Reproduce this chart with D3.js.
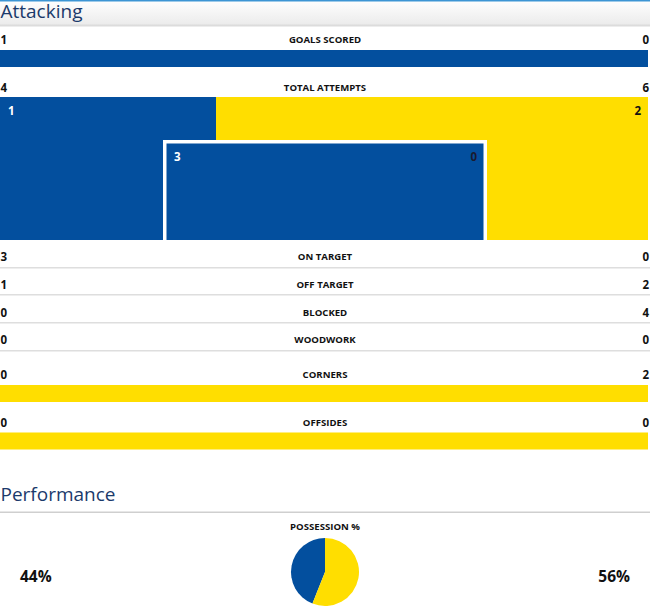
<!DOCTYPE html>
<html>
<head>
<meta charset="utf-8">
<script src="https://cdn.jsdelivr.net/npm/d3@7"></script>
<style>
    body { margin: 0; background: #fff; }
    svg { display: block; font-family: "Open Sans", "DejaVu Sans", sans-serif; }
    .label { font-size: 9.6px; font-weight: 700; fill: #111; }
    .value { font-size: 11.5px; font-weight: 700; fill: #111; }
    .heading { font-size: 19px; fill: #1b3a6b; }
</style>
</head>
<body>
<div id="stats"></div>
<script>
// match stats, home (blue) vs away (yellow)
var statLabels = ["GOALS SCORED", "TOTAL ATTEMPTS", "ON TARGET", "OFF TARGET", "BLOCKED", "WOODWORK", "CORNERS", "OFFSIDES"];
var homeValues = [1, 4, 3, 1, 0, 0, 0, 0];
var awayValues = [0, 6, 0, 2, 4, 0, 2, 0];
var possessionLabel = "POSSESSION %";
var possession = [44, 56];
var sections = ["Attacking", "Performance"];

var width = 650, height = 607;
var blue = "#034f9e", yellow = "#ffde00";

var svg = d3.select("#stats").append("svg")
    .attr("width", width)
    .attr("height", height);

// header gradient
var defs = svg.append("defs");
var grad = defs.append("linearGradient")
    .attr("id", "headGrad")
    .attr("x1", 0).attr("y1", 0).attr("x2", 0).attr("y2", 1);
grad.append("stop").attr("offset", "0%").attr("stop-color", "#ffffff");
grad.append("stop").attr("offset", "100%").attr("stop-color", "#ebebeb");

svg.append("rect")
    .attr("x", 0).attr("y", 0)
    .attr("width", width).attr("height", 25)
    .attr("fill", "url(#headGrad)");
svg.append("rect")
    .attr("x", 0).attr("y", 0)
    .attr("width", width).attr("height", 1.5)
    .attr("fill", "#3d95d4");
svg.append("rect")
    .attr("x", 0).attr("y", 24.5)
    .attr("width", width).attr("height", 2)
    .attr("fill", "#dcdcdc");

svg.append("text")
    .attr("class", "heading")
    .attr("x", 0.5)
    .attr("y", 18)
    .text(sections[0]);

// share of the bar that goes to the home side
function homeShare(i) {
    var total = homeValues[i] + awayValues[i];
    return total === 0 ? 0 : homeValues[i] / total;
}

var xScale = d3.scaleLinear().domain([0, 1]).range([0, 648]);

// row centre positions
var rowY = [40, 88, 257, 285, 312.5, 340, 375, 422.5];
var barRows = {0: 50, 6: 385, 7: 432.5};
var lineRows = [267, 294, 322, 350];

statLabels.forEach(function(lbl, i) {
    svg.append("text")
        .attr("class", "label")
        .attr("x", 325)
        .attr("y", rowY[i] + 3.4)
        .attr("text-anchor", "middle")
        .text(lbl);
    svg.append("text")
        .attr("class", "value")
        .attr("x", 0.5)
        .attr("y", rowY[i] + 4)
        .text(homeValues[i]);
    svg.append("text")
        .attr("class", "value")
        .attr("x", 649)
        .attr("y", rowY[i] + 4)
        .attr("text-anchor", "end")
        .text(awayValues[i]);

    if (barRows[i] !== undefined) {
        var s = homeShare(i);
        svg.append("rect")
            .attr("x", xScale(0)).attr("y", barRows[i])
            .attr("width", xScale(s)).attr("height", 17)
            .attr("fill", blue);
        svg.append("rect")
            .attr("x", xScale(s)).attr("y", barRows[i])
            .attr("width", xScale(1) - xScale(s)).attr("height", 17)
            .attr("fill", yellow);
    }
});

lineRows.forEach(function(y) {
    svg.append("rect")
        .attr("x", 0).attr("y", y)
        .attr("width", width).attr("height", 1.5)
        .attr("fill", "#dedede");
});

// total attempts box: off target split outside, on target split in the inner box
var outerTop = 97, outerBottom = 240;
var offShare = homeShare(3);
svg.append("rect")
    .attr("x", xScale(0)).attr("y", outerTop)
    .attr("width", xScale(offShare)).attr("height", outerBottom - outerTop)
    .attr("fill", blue);
svg.append("rect")
    .attr("x", xScale(offShare)).attr("y", outerTop)
    .attr("width", xScale(1) - xScale(offShare)).attr("height", outerBottom - outerTop)
    .attr("fill", yellow);
svg.append("text")
    .attr("class", "value")
    .style("fill", "#fff")
    .attr("x", 8).attr("y", 115)
    .text(homeValues[3]);
svg.append("text")
    .attr("class", "value")
    .attr("x", 641).attr("y", 115)
    .attr("text-anchor", "end")
    .text(awayValues[3]);

var inner = {x0: 163, x1: 487, y0: 140};
var innerScale = d3.scaleLinear().domain([0, 1]).range([inner.x0 + 3.5, inner.x1 - 3.5]);
var onShare = homeShare(2);
svg.append("rect")
    .attr("x", inner.x0).attr("y", inner.y0)
    .attr("width", inner.x1 - inner.x0).attr("height", outerBottom - inner.y0)
    .attr("fill", "#fff");
svg.append("rect")
    .attr("x", innerScale(0)).attr("y", inner.y0 + 3.5)
    .attr("width", innerScale(onShare) - innerScale(0)).attr("height", outerBottom - inner.y0 - 3.5)
    .attr("fill", blue);
svg.append("rect")
    .attr("x", innerScale(onShare)).attr("y", inner.y0 + 3.5)
    .attr("width", innerScale(1) - innerScale(onShare)).attr("height", outerBottom - inner.y0 - 3.5)
    .attr("fill", yellow);
svg.append("text")
    .attr("class", "value")
    .style("fill", "#fff")
    .attr("x", 174).attr("y", 161)
    .text(homeValues[2]);
svg.append("text")
    .attr("class", "value")
    .style("fill", "#1a1a2e")
    .attr("x", 477).attr("y", 161)
    .attr("text-anchor", "end")
    .text(awayValues[2]);

// performance section
svg.append("text")
    .attr("class", "heading")
    .attr("x", 0.5)
    .attr("y", 501)
    .text(sections[1]);
svg.append("rect")
    .attr("x", 0).attr("y", 511.5)
    .attr("width", width).attr("height", 1.5)
    .attr("fill", "#cfcfcf");

svg.append("text")
    .attr("class", "label")
    .attr("x", 325).attr("y", 529.5)
    .attr("text-anchor", "middle")
    .text(possessionLabel);

svg.append("text")
    .attr("class", "value")
    .style("font-size", "15.5px")
    .attr("x", 20).attr("y", 582)
    .text(possession[0] + "%");
svg.append("text")
    .attr("class", "value")
    .style("font-size", "15.5px")
    .attr("x", 630).attr("y", 582)
    .attr("text-anchor", "end")
    .text(possession[1] + "%");

var total = d3.sum(possession);
var start = -2 * Math.PI * possession[0] / total;
var pie = d3.pie().sort(null).startAngle(start).endAngle(start + 2 * Math.PI);
var arc = d3.arc().innerRadius(0).outerRadius(34);

svg.append("g")
    .attr("transform", "translate(325,572)")
    .selectAll("path")
    .data(pie(possession))
    .enter().append("path")
    .attr("d", arc)
    .attr("fill", function(d, i) { return i === 0 ? blue : yellow; });
</script>
</body>
</html>
